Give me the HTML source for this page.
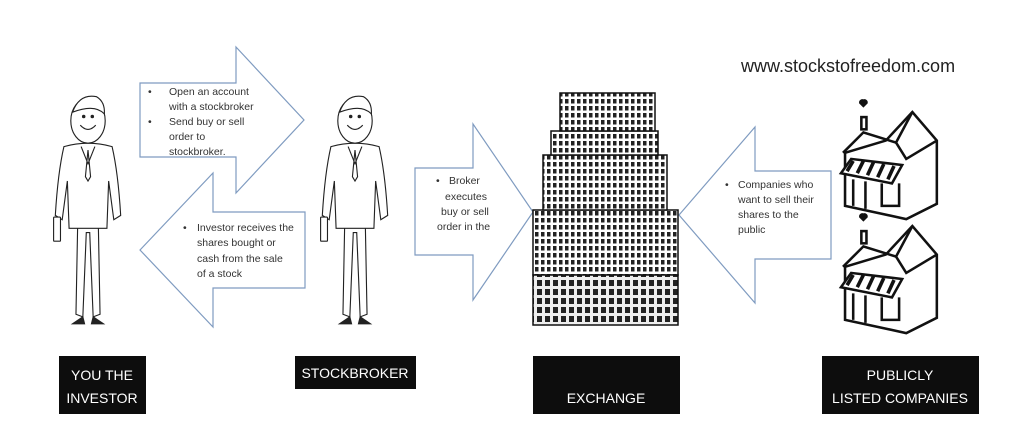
<!DOCTYPE html>
<html><head><meta charset="utf-8"><style>
body{margin:0;background:#fff;}
svg{display:block;}
.t{font-family:"Liberation Sans",sans-serif;font-size:10.5px;fill:#333;}
.lb{font-family:"Liberation Sans",sans-serif;font-size:14px;fill:#fff;text-anchor:middle;}
</style></head><body>
<svg width="1024" height="439" viewBox="0 0 1024 439" xmlns="http://www.w3.org/2000/svg">
<defs>
<pattern id="win" width="6" height="7" patternUnits="userSpaceOnUse">
<rect width="6" height="7" fill="#fff"/><rect x="1" y="1" width="3.5" height="4.5" fill="#222"/>
</pattern>
<pattern id="win2" width="8" height="9" patternUnits="userSpaceOnUse">
<rect width="8" height="9" fill="#eee"/><rect x="1" y="1" width="5" height="6" fill="#222"/>
</pattern>
<g id="man" fill="#fff" stroke="#222" stroke-width="1.3">
<path d="M-12 150 L-14 255 L-6 258 L-2 160 L2 160 L6 258 L14 255 L12 150 Z"/>
<path d="M-6 258 L-18 266 L-4 266 Z M6 258 L18 266 L4 266 Z" fill="#222"/>
<path d="M-28 60 Q-35 90 -38 140 L-30 145 L-24 100 L-22 155 L22 155 L24 100 L30 145 L38 140 Q35 90 28 60 Q0 52 -28 60 Z"/>
<path d="M-8 60 L0 80 L8 60 M0 64 L-3 95 L0 100 L3 95 Z"/>
<rect x="-40" y="142" width="8" height="28" rx="1"/>
<ellipse cx="0" cy="30" rx="20" ry="26"/>
<path d="M-18 20 Q-10 -2 10 2 Q20 8 19 22 Q8 10 -18 20Z" fill="#fff"/>
<circle cx="-5" cy="25" r="1.4" fill="#222"/><circle cx="5" cy="25" r="1.4" fill="#222"/>
<path d="M-9 35 Q0 45 9 35" fill="none"/>
</g>
<g id="house" stroke="#111" stroke-width="2.5" fill="#fff">
<path d="M42 28 L68 0 L92 28 L92 90 L62 105 L2 92 L2 40 Z"/>
<path d="M0 40 L20 20 L52 30 L68 0" fill="none"/>
<path d="M52 30 L62 46 L92 28" fill="none"/>
<path d="M-2 60 L8 46 L58 52 L48 70 Z" fill="#fff"/>
<path d="M4 58l6-10M14 60l6-12M24 62l6-13M34 64l6-13M44 66l6-13" stroke-width="3.5"/>
<path d="M10 66 L10 92 M22 68 L22 95 M38 70 L38 92 L55 92 L55 70" fill="none"/>
<rect x="18" y="5" width="5" height="12"/>
<path d="M20 -6 l-3-3 a2 2 0 0 1 3-2 a2 2 0 0 1 3 2 z" fill="#111"/>
</g>
</defs>
<rect width="1024" height="439" fill="#fff"/>
<text x="741" y="72" font-family="Liberation Sans,sans-serif" font-size="18" fill="#222">www.stockstofreedom.com</text>
<g fill="#fff" stroke="#7f9bc0" stroke-width="1.2">
<polygon points="140,83 236,83 236,47 304,120 236,193 236,157 140,157"/>
<polygon points="140,250 213,173 213,212 305,212 305,288 213,288 213,327"/>
<polygon points="415,168 473,168 473,124 533,212 473,300 473,255 415,255"/>
<polygon points="679,215 755,127 755,171 831,171 831,259 755,259 755,303"/>
</g>
<g class="t">
<text x="148" y="95">•</text><text x="169" y="95">Open an account</text><text x="169" y="110">with a stockbroker</text>
<text x="148" y="125">•</text><text x="169" y="125">Send buy or sell</text><text x="169" y="140">order to</text><text x="169" y="155">stockbroker.</text>
<text x="183" y="231">•</text><text x="197" y="231">Investor receives the</text><text x="197" y="246">shares bought or</text><text x="197" y="262">cash from the sale</text><text x="197" y="277">of a stock</text>
<text x="436" y="184">•</text><text x="449" y="184">Broker</text><text x="445" y="200">executes</text><text x="441" y="215">buy or sell</text><text x="437" y="230">order in the</text>
<text x="725" y="188">•</text><text x="738" y="188">Companies who</text><text x="738" y="203">want to sell their</text><text x="738" y="218">shares to the</text><text x="738" y="233">public</text>
</g>
<g transform="translate(88,95) scale(0.86)"><use href="#man"/></g>
<g transform="translate(355,95) scale(0.86)"><use href="#man"/></g>
<g stroke="#111" stroke-width="1.5">
<rect x="533" y="210" width="145" height="65" fill="url(#win)"/>
<rect x="533" y="275" width="145" height="50" fill="url(#win2)"/>
<rect x="543" y="155" width="124" height="55" fill="url(#win)"/>
<rect x="551" y="131" width="107" height="24" fill="url(#win)"/>
<rect x="560" y="93" width="95" height="38" fill="url(#win)"/>
</g>
<g transform="translate(843,112) scale(1.02)"><use href="#house"/></g>
<g transform="translate(843,226) scale(1.02)"><use href="#house"/></g>
<rect x="59" y="356" width="87" height="58" fill="#0d0d0d"/>
<text class="lb" x="102" y="380">YOU THE</text><text class="lb" x="102" y="403">INVESTOR</text>
<rect x="295" y="356" width="121" height="33" fill="#0d0d0d"/>
<text class="lb" x="355" y="378">STOCKBROKER</text>
<rect x="533" y="356" width="147" height="58" fill="#0d0d0d"/>
<text class="lb" x="606" y="403">EXCHANGE</text>
<rect x="822" y="356" width="157" height="58" fill="#0d0d0d"/>
<text class="lb" x="900" y="380">PUBLICLY</text><text class="lb" x="900" y="403">LISTED COMPANIES</text>
</svg>
</body></html>
